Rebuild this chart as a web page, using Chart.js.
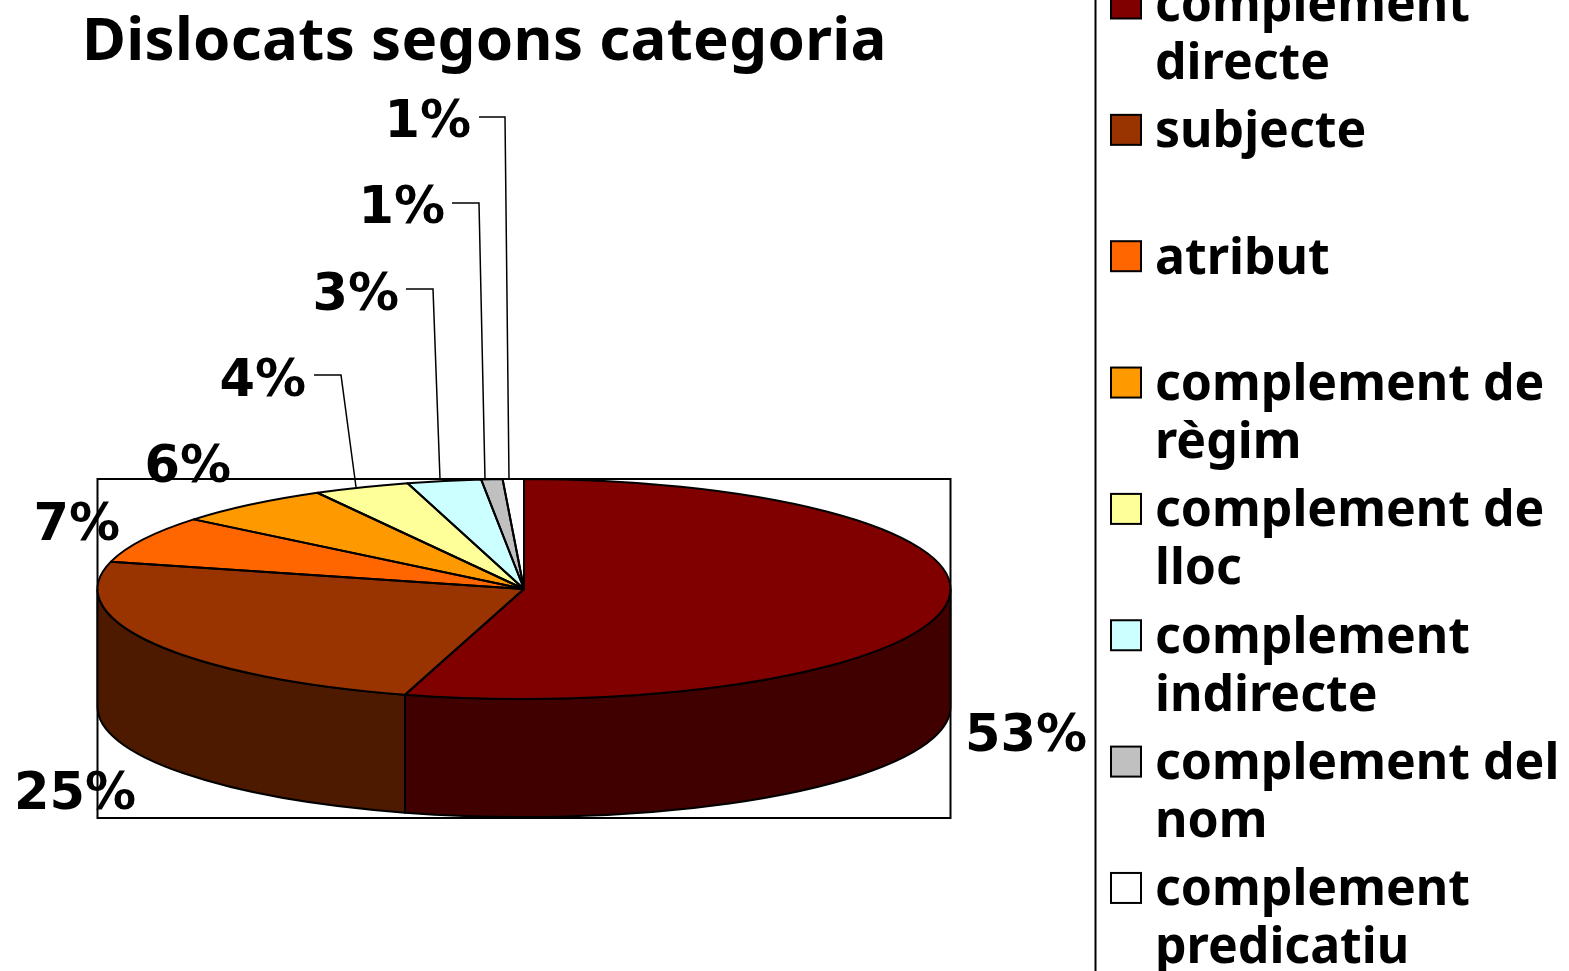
<!DOCTYPE html>
<html>
<head>
<meta charset="utf-8">
<title>Dislocats segons categoria</title>
<script src="https://cdn.jsdelivr.net/npm/chart.js@4"></script>
<style>
    html, body { margin: 0; padding: 0; background: #fff; overflow: hidden; }
    canvas { display: block; }
</style>
</head>
<body>
<canvas id="pieChart" width="1569" height="971"></canvas>
<script>
// Chart data
const chartTitle = 'Dislocats segons categoria';
const categories = ['complement directe', 'subjecte', 'atribut', 'complement de règim', 'complement de lloc', 'complement indirecte', 'complement del nom', 'complement predicatiu'];
const legendLines = [['complement', 'directe'], ['subjecte'], ['atribut'], ['complement de', 'règim'], ['complement de', 'lloc'], ['complement', 'indirecte'], ['complement del', 'nom'], ['complement', 'predicatiu']];
// Printed labels of the reference
const percentLabels = ['53%', '25%', '7%', '6%', '4%', '3%', '1%', '1%'];
// Shares estimated from the wedge edges as drawn (the reference's 3D view skews them from the printed labels)
const sliceShares = [54.5, 24.5, 6.9, 6.05, 3.65, 2.8, 0.8, 0.8];

const topColors = ['#800000', '#993300', '#ff6600', '#ff9900', '#ffff99', '#ccffff', '#c0c0c0', '#ffffff'];
const wallColors = ['#400000', '#4d1a00', '#803300', '#804d00', '#80804d', '#668080', '#606060', '#808080'];

// Layout of the flattened pie
const pieLeft = 97.5, pieRight = 950.5, pieTop = 479, pieCenterY = 589;
const squash = 0.258, wallDepth = 118, boxBottom = 818;
const fontFamily = '"Noto Sans", sans-serif';
const labelFontFamily = '"DejaVu Sans", sans-serif';

// Where each printed label sits: [x, baseline y, textAlign]
const labelSpots = [[1087, 751, 'right'], [136, 809, 'right'], [120, 540, 'right'], [231, 482, 'right'], [306, 396, 'right'], [399, 310, 'right'], [445, 223, 'right'], [471, 137, 'right']];
const leaderLines = [
    [[314, 375], [341, 375], [356, 487]],
    [[406, 289], [433, 289], [440, 479]],
    [[452, 203], [479, 203], [485, 479]],
    [[479, 117], [505, 117], [509, 479]]
];

function squashed(ctx, arc) {
    ctx.translate(0, pieCenterY);
    ctx.scale(1, squash);
    ctx.translate(0, -arc.y);
}

// Draws the box and the side walls, then flattens the pie the library draws
const pie3dPlugin = {
    id: 'pie3d',
    beforeDatasetsDraw(chart) {
        const ctx = chart.ctx;
        const arcs = chart.getDatasetMeta(0).data;
        const ry = arcs[0].outerRadius * squash;

        ctx.save();
        ctx.strokeStyle = '#000';
        ctx.lineWidth = 2;
        ctx.strokeRect(pieLeft, pieTop, pieRight - pieLeft, boxBottom - pieTop);

        arcs.forEach((arc, i) => {
            const from = Math.max(arc.startAngle, 0);
            const to = Math.min(arc.endAngle, Math.PI);
            if (to <= from) return;
            ctx.beginPath();
            ctx.ellipse(arc.x, pieCenterY, arc.outerRadius, ry, 0, from, to);
            ctx.ellipse(arc.x, pieCenterY + wallDepth, arc.outerRadius, ry, 0, to, from, true);
            ctx.closePath();
            ctx.fillStyle = wallColors[i];
            ctx.fill();
            ctx.stroke();
        });
        ctx.restore();

        ctx.save();
        squashed(ctx, arcs[0]);
    },
    afterDatasetsDraw(chart) {
        const ctx = chart.ctx;
        ctx.restore();

        // Outlines are stroked unsquashed so the line keeps one width
        const arcs = chart.getDatasetMeta(0).data;
        const ry = arcs[0].outerRadius * squash;
        ctx.save();
        ctx.strokeStyle = '#000';
        ctx.lineWidth = 2;
        ctx.lineJoin = 'round';
        arcs.forEach(arc => {
            ctx.beginPath();
            ctx.moveTo(arc.x, pieCenterY);
            ctx.ellipse(arc.x, pieCenterY, arc.outerRadius, ry, 0, arc.startAngle, arc.endAngle);
            ctx.closePath();
            ctx.stroke();
        });
        ctx.restore();
    },
    afterDraw(chart) {
        const ctx = chart.ctx;
        ctx.save();

        // Leader lines
        ctx.strokeStyle = '#000';
        ctx.lineWidth = 1.5;
        leaderLines.forEach(points => {
            ctx.beginPath();
            points.forEach((p, i) => i ? ctx.lineTo(p[0], p[1]) : ctx.moveTo(p[0], p[1]));
            ctx.stroke();
        });

        // Title
        ctx.fillStyle = '#000';
        ctx.textBaseline = 'alphabetic';
        ctx.textAlign = 'left';
        ctx.font = 'bold 60px ' + fontFamily;
        ctx.letterSpacing = '0.3px';
        ctx.fillText(chartTitle, 82, 60);
        ctx.letterSpacing = '0px';

        // Percentage labels
        ctx.font = 'bold 51px ' + labelFontFamily;
        percentLabels.forEach((label, i) => {
            ctx.textAlign = labelSpots[i][2];
            ctx.fillText(label, labelSpots[i][0], labelSpots[i][1]);
        });

        // Legend frame and entries
        ctx.lineWidth = 2;
        ctx.beginPath();
        ctx.moveTo(1095.5, 0);
        ctx.lineTo(1095.5, 971);
        ctx.stroke();

        ctx.textAlign = 'left';
        ctx.font = 'bold 50px ' + fontFamily;
        legendLines.forEach((lines, i) => {
            const rowY = 3.5 + i * 126.35;
            ctx.fillStyle = topColors[i];
            ctx.fillRect(1111, rowY - 15, 30, 30);
            ctx.strokeRect(1111, rowY - 15, 30, 30);
            ctx.fillStyle = '#000';
            lines.forEach((line, j) => ctx.fillText(line, 1155, rowY + 17.5 + j * 58));
        });
        ctx.restore();
    }
};

document.addEventListener('DOMContentLoaded', function() {
    new Chart(document.getElementById('pieChart'), {
        type: 'pie',
        data: {
            labels: categories,
            datasets: [{
                data: sliceShares,
                backgroundColor: topColors,
                borderWidth: 0
            }]
        },
        options: {
            responsive: false,
            animation: false,
            layout: {
                padding: { left: pieLeft, right: 1569 - pieRight, top: 59, bottom: 59 }
            },
            plugins: {
                legend: { display: false },
                title: { display: false },
                tooltip: { enabled: false }
            }
        },
        plugins: [pie3dPlugin]
    });
});
</script>
</body>
</html>
